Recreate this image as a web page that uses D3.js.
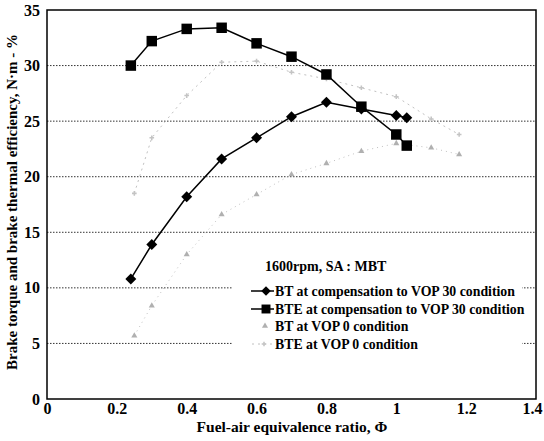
<!DOCTYPE html>
<html>
<head>
<meta charset="utf-8">
<script src="https://cdn.jsdelivr.net/npm/d3@7"></script>
<style>
  body { margin: 0; background: #fff; }
</style>
</head>
<body>
<div id="chart"></div>
<script>
// values
var btCompPhi = [0.24, 0.30, 0.40, 0.50, 0.60, 0.70, 0.80, 0.90, 1.00, 1.03];
var btCompVal = [10.8, 13.9, 18.2, 21.6, 23.5, 25.4, 26.7, 26.1, 25.5, 25.3];

var bteCompPhi = [0.24, 0.30, 0.40, 0.50, 0.60, 0.70, 0.80, 0.90, 1.00, 1.03];
var bteCompVal = [30.0, 32.2, 33.3, 33.4, 32.0, 30.8, 29.2, 26.3, 23.8, 22.8];

var bt0Phi = [0.25, 0.30, 0.40, 0.50, 0.60, 0.70, 0.80, 0.90, 1.00, 1.10, 1.18];
var bt0Val = [5.7, 8.4, 13.0, 16.6, 18.4, 20.2, 21.2, 22.3, 23.0, 22.6, 22.0];

var bte0Phi = [0.25, 0.30, 0.40, 0.50, 0.60, 0.70, 0.80, 0.90, 1.00, 1.10, 1.18];
var bte0Val = [18.5, 23.5, 27.3, 30.3, 30.4, 29.4, 28.8, 28.0, 27.2, 25.2, 23.8];

var xTicks = [0, 0.2, 0.4, 0.6, 0.8, 1, 1.2, 1.4];
var yTicks = [0, 5, 10, 15, 20, 25, 30, 35];
var gridValues = [5, 10, 15, 20, 25, 30];

var legendTitle = "1600rpm, SA : MBT";
var legendLabels = [
  "BT at compensation to VOP 30 condition",
  "BTE at compensation to VOP 30 condition",
  "BT at VOP 0 condition",
  "BTE at VOP 0 condition"
];

var FONT = "Liberation Serif";
var WIDTH = 544, HEIGHT = 441;
var margin = {top: 10, right: 8, bottom: 42, left: 47};
var w = WIDTH - margin.left - margin.right,
    h = HEIGHT - margin.top - margin.bottom;

var svg = d3.select("#chart").append("svg")
    .attr("width", WIDTH)
    .attr("height", HEIGHT);

var g = svg.append("g").attr("transform", "translate(" + margin.left + "," + margin.top + ")");

var x = d3.scaleLinear().domain([0, 1.4]).range([0, w]);
var y = d3.scaleLinear().domain([0, 35]).range([h, 0]);

function zip(a, b){ return a.map(function(v, i){ return [v, b[i]]; }); }
function at(d){ return "translate(" + x(d[0]) + "," + y(d[1]) + ")"; }

// grid
g.selectAll("line.grid")
    .data(gridValues).enter()
    .append("line")
    .attr("class", "grid")
    .attr("x1", 0).attr("x2", w)
    .attr("y1", function(d){ return y(d); })
    .attr("y2", function(d){ return y(d); })
    .attr("stroke", "#333")
    .attr("stroke-width", 1)
    .attr("stroke-dasharray", "1.5,1.5");

// axes
var xAxis = g.append("g")
    .attr("transform", "translate(0," + h + ")")
    .call(d3.axisBottom(x).tickValues(xTicks).tickSize(0).tickPadding(4)
        .tickFormat(function(d){ return d3.format("")(+d.toFixed(1)); }));
var yAxis = g.append("g")
    .call(d3.axisLeft(y).tickValues(yTicks).tickSize(0).tickPadding(7));
[xAxis, yAxis].forEach(function(a){
    a.select(".domain").remove();
    a.selectAll("text")
        .attr("fill", "#000")
        .attr("font-family", FONT)
        .attr("font-size", 16)
        .attr("font-weight", "bold");
});
// last x label sits against the right edge
xAxis.selectAll(".tick text").filter(function(d){ return d === 1.4; }).attr("dx", -4);

// legend background (covers grid)
g.append("rect")
    .attr("x", 232 - margin.left)
    .attr("y", 252 - margin.top)
    .attr("width", 290).attr("height", 134)
    .attr("fill", "#fff");

var line = d3.line().x(function(d){ return x(d[0]); }).y(function(d){ return y(d[1]); });

// gray VOP 0 series
var grayCol = "#b0b0b0";
g.append("path").datum(zip(bt0Phi, bt0Val))
    .attr("d", line).attr("fill", "none")
    .attr("stroke", grayCol).attr("stroke-width", 0.8).attr("stroke-dasharray", "1,4");
g.append("path").datum(zip(bte0Phi, bte0Val))
    .attr("d", line).attr("fill", "none")
    .attr("stroke", grayCol).attr("stroke-width", 0.8).attr("stroke-dasharray", "2,4");

var tri = d3.symbol().type(d3.symbolTriangle).size(16);
var cross = d3.symbol().type(d3.symbolCross).size(12);

g.selectAll("path.bt0").data(zip(bt0Phi, bt0Val)).enter()
    .append("path").attr("class", "bt0")
    .attr("d", tri)
    .attr("transform", at)
    .attr("fill", grayCol);
g.selectAll("path.bte0").data(zip(bte0Phi, bte0Val)).enter()
    .append("path").attr("class", "bte0")
    .attr("d", cross)
    .attr("transform", at)
    .attr("fill", "#c4c4c4");

// black compensation series
g.append("path").datum(zip(btCompPhi, btCompVal))
    .attr("d", line).attr("fill", "none").attr("stroke", "#000").attr("stroke-width", 1.5);
g.append("path").datum(zip(bteCompPhi, bteCompVal))
    .attr("d", line).attr("fill", "none").attr("stroke", "#000").attr("stroke-width", 1.5);

var diamond = d3.symbol().type(d3.symbolSquare).size(60);
var square = d3.symbol().type(d3.symbolSquare).size(110);

g.selectAll("path.btc").data(zip(btCompPhi, btCompVal)).enter()
    .append("path").attr("class", "btc")
    .attr("d", diamond)
    .attr("transform", function(d){ return at(d) + "rotate(45)"; })
    .attr("fill", "#000");
g.selectAll("path.btec").data(zip(bteCompPhi, bteCompVal)).enter()
    .append("path").attr("class", "btec")
    .attr("d", square)
    .attr("transform", at)
    .attr("fill", "#000");

// frame
g.append("rect")
    .attr("x", 0).attr("y", 0).attr("width", w).attr("height", h)
    .attr("fill", "none").attr("stroke", "#000").attr("stroke-width", 1.5);

// legend
var leg = svg.append("g");
leg.append("text")
    .attr("x", 265).attr("y", 271)
    .attr("font-family", FONT).attr("font-weight", "bold")
    .attr("font-size", 14)
    .text(legendTitle);

var rowY = [291, 309, 326, 344];
legendLabels.forEach(function(lbl, i){
    var ry = rowY[i];
    if (i < 2) {
        leg.append("line").attr("x1", 251).attr("x2", 274).attr("y1", ry).attr("y2", ry)
            .attr("stroke", "#000").attr("stroke-width", 1.5);
        leg.append("path")
            .attr("d", i === 0 ? d3.symbol().type(d3.symbolSquare).size(45)() : d3.symbol().type(d3.symbolSquare).size(80)())
            .attr("transform", "translate(266," + ry + ")" + (i === 0 ? "rotate(45)" : ""))
            .attr("fill", "#000");
    } else if (i === 2) {
        leg.append("path").attr("d", tri)
            .attr("transform", "translate(265," + ry + ")").attr("fill", grayCol);
    } else {
        leg.append("line").attr("x1", 252).attr("x2", 274).attr("y1", ry).attr("y2", ry)
            .attr("stroke", grayCol).attr("stroke-width", 0.8).attr("stroke-dasharray", "2,4");
        leg.append("path").attr("d", cross)
            .attr("transform", "translate(264," + ry + ")").attr("fill", "#c4c4c4");
    }
    leg.append("text")
        .attr("x", 275).attr("y", ry + 4.5)
        .attr("font-family", FONT).attr("font-weight", "bold")
        .attr("font-size", 13.8)
        .text(lbl);
});

// axis titles
svg.append("text")
    .attr("x", 292).attr("y", 432)
    .attr("text-anchor", "middle")
    .attr("font-family", FONT).attr("font-weight", "bold")
    .attr("font-size", 15.5)
    .text("Fuel-air equivalence ratio, Φ");

svg.append("text")
    .attr("transform", "translate(17," + 202 + ")rotate(-90)")
    .attr("text-anchor", "middle")
    .attr("font-family", FONT).attr("font-weight", "bold")
    .attr("font-size", 15)
    .text("Brake torque and brake thermal efficiency, N·m - %");
</script>
</body>
</html>
